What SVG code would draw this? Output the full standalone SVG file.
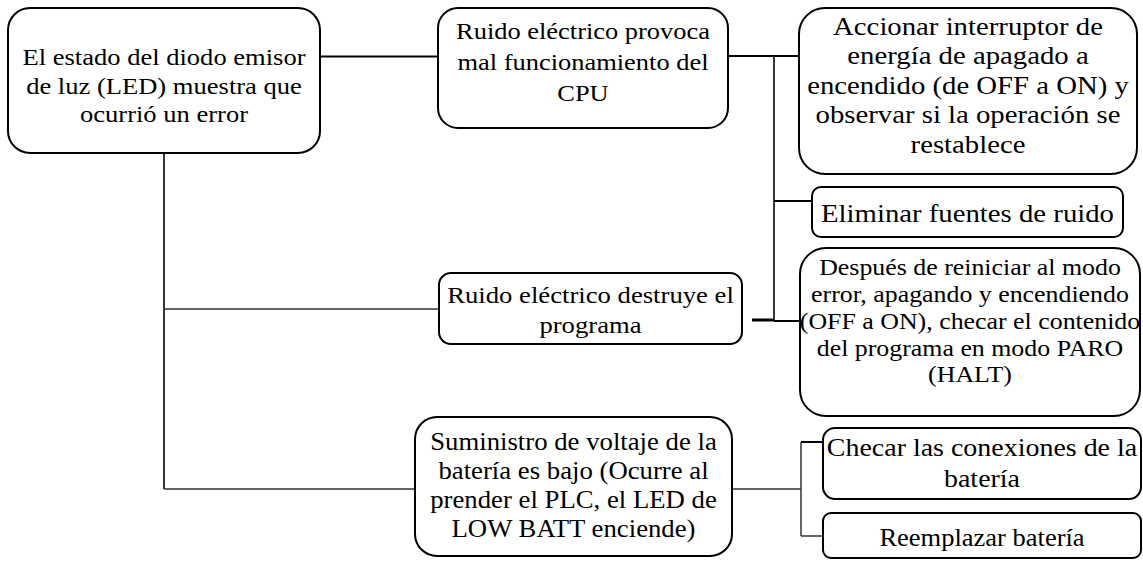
<svg xmlns="http://www.w3.org/2000/svg" width="1143" height="561" viewBox="0 0 1143 561">
<style>
.box{fill:#fff;stroke:#000;stroke-width:2}
.t{font-family:"Liberation Serif","Times New Roman",serif;fill:#000;text-anchor:middle}
.thick{stroke:#000;stroke-width:2;fill:none}
.thin{stroke:#333;stroke-width:1.5;fill:none}
</style>
<rect width="1143" height="561" fill="#fff"/>
<g id="connectors">
<line class="thick" x1="320" y1="56.5" x2="438" y2="56.5"/>
<line class="thick" x1="728" y1="56" x2="799" y2="56"/>
<line class="thin" x1="774" y1="56" x2="774" y2="321" style="stroke:#222;stroke-width:1.8"/>
<line class="thick" x1="774" y1="201" x2="812" y2="201"/>
<line class="thick" x1="752" y1="320" x2="774" y2="320" style="stroke-width:3"/>
<line class="thick" x1="774" y1="321" x2="800" y2="321"/>
<line class="thin" x1="164" y1="153" x2="164" y2="489" style="stroke-width:2"/>
<line class="thin" x1="164" y1="309" x2="439" y2="309"/>
<line class="thin" x1="164" y1="489" x2="415" y2="489"/>
<line class="thin" x1="732" y1="489" x2="801" y2="489"/>
<line class="thin" x1="801" y1="442" x2="801" y2="536"/>
<line class="thick" x1="801" y1="442" x2="823" y2="442"/>
<line class="thin" x1="801" y1="536" x2="823" y2="536"/>
</g>
<g id="n1">
<rect class="box" x="8" y="8" width="312" height="145" rx="22"/>
<g transform="translate(164 0) scale(1.14 1)"><text class="t" font-size="23.3"><tspan x="0" y="65.5">El estado del diodo emisor</tspan><tspan x="0" y="94">de luz (LED) muestra que</tspan><tspan x="0" y="122.5">ocurrió un error</tspan></text></g>
</g>
<g id="n2">
<rect class="box" x="438" y="8" width="290" height="120" rx="20"/>
<g transform="translate(583 0) scale(1.15 1)"><text class="t" font-size="23"><tspan x="0" y="39">Ruido eléctrico provoca</tspan><tspan x="0" y="70">mal funcionamiento del</tspan><tspan x="0" y="101">CPU</tspan></text></g>
</g>
<g id="n3">
<rect class="box" x="799" y="8" width="338" height="166" rx="26"/>
<g transform="translate(968 0) scale(1.15 1)"><text class="t" font-size="25"><tspan x="0" y="35">Accionar interruptor de</tspan><tspan x="0" y="64.5">energía de apagado a</tspan><tspan x="0" y="94">encendido (de OFF a ON) y</tspan><tspan x="0" y="123.5">observar si la operación se</tspan><tspan x="0" y="153">restablece</tspan></text></g>
</g>
<g id="n4">
<rect class="box" x="812" y="187" width="311" height="50" rx="9"/>
<g transform="translate(967.5 0) scale(1.15 1)"><text class="t" font-size="25"><tspan x="0" y="222">Eliminar fuentes de ruido</tspan></text></g>
</g>
<g id="n5">
<rect class="box" x="800" y="248" width="340" height="168" rx="26"/>
<g transform="translate(970 0) scale(1.15 1)"><text class="t" font-size="22.5"><tspan x="0" y="275.5">Después de reiniciar al modo</tspan><tspan x="0" y="302.3">error, apagando y encendiendo</tspan><tspan x="0" y="329">(OFF a ON), checar el contenido</tspan><tspan x="0" y="355.7">del programa en modo PARO</tspan><tspan x="0" y="382.5">(HALT)</tspan></text></g>
</g>
<g id="n6">
<rect class="box" x="439" y="273" width="303" height="71" rx="12"/>
<g transform="translate(590.5 0) scale(1.15 1)"><text class="t" font-size="23.2"><tspan x="0" y="303.3">Ruido eléctrico destruye el</tspan><tspan x="0" y="332.7">programa</tspan></text></g>
</g>
<g id="n7">
<rect class="box" x="415" y="417" width="317" height="139" rx="22"/>
<g transform="translate(573.5 0) scale(1.07 1)"><text class="t" font-size="25"><tspan x="0" y="450.5">Suministro de voltaje de la</tspan><tspan x="0" y="479.5">batería es bajo (Ocurre al</tspan><tspan x="0" y="508.5">prender el PLC, el LED de</tspan><tspan x="0" y="537.5">LOW BATT enciende)</tspan></text></g>
</g>
<g id="n8">
<rect class="box" x="823" y="428" width="318" height="71" rx="12"/>
<g transform="translate(982 0) scale(1.075 1)"><text class="t" font-size="26"><tspan x="0" y="456">Checar las conexiones de la</tspan><tspan x="0" y="487">batería</tspan></text></g>
</g>
<g id="n9">
<rect class="box" x="823" y="513" width="318" height="45" rx="8"/>
<g transform="translate(982 0) scale(1.06 1)"><text class="t" font-size="25"><tspan x="0" y="546">Reemplazar batería</tspan></text></g>
</g>
</svg>
